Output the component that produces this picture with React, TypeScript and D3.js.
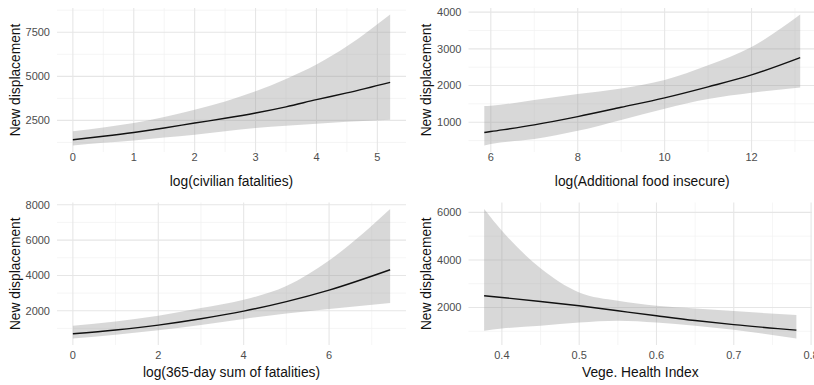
import React from 'react';
import * as d3 from 'd3';

const W = 814;
const H = 385;
const FONT = '"Liberation Sans", Arial, Helvetica, sans-serif';

// Panel 1: log(civilian fatalities)
const civX = [0, 0.5, 1, 1.5, 2, 2.5, 3, 3.5, 4, 4.5, 5.21];
const civFit = [1403, 1600, 1818, 2070, 2350, 2620, 2920, 3270, 3676, 4060, 4660];
const civLo = [1080, 1230, 1364, 1530, 1688, 1890, 2068, 2200, 2310, 2420, 2540];
const civHi = [1880, 2100, 2350, 2700, 3108, 3580, 4150, 4850, 5665, 6700, 8505];
const civXTicks = [0, 1, 2, 3, 4, 5];
const civXLabels = ['0', '1', '2', '3', '4', '5'];
const civYTicks = [2500, 5000, 7500];
const civYLabels = ['2500', '5000', '7500'];

// Panel 2: log(Additional food insecure)
const foodX = [5.85, 6, 7, 8, 9, 10, 11, 12, 13.12];
const foodFit = [718, 745, 927, 1152, 1406, 1665, 1965, 2290, 2762];
const foodLo = [366, 404, 539, 764, 1062, 1370, 1630, 1800, 1945];
const foodHi = [1442, 1451, 1604, 1767, 1921, 2150, 2550, 3049, 3935];
const foodXTicks = [6, 8, 10, 12];
const foodXLabels = ['6', '8', '10', '12'];
const foodYTicks = [1000, 2000, 3000, 4000];
const foodYLabels = ['1000', '2000', '3000', '4000'];

// Panel 3: log(365-day sum of fatalities)
const fatX = [0, 1, 2, 3, 4, 5, 6, 7.43];
const fatFit = [697, 910, 1190, 1550, 1980, 2520, 3170, 4323];
const fatLo = [430, 650, 900, 1200, 1540, 1840, 2100, 2436];
const fatHi = [1150, 1394, 1717, 2151, 2620, 3400, 4850, 7762];
const fatXTicks = [0, 2, 4, 6];
const fatXLabels = ['0', '2', '4', '6'];
const fatYTicks = [2000, 4000, 6000, 8000];
const fatYLabels = ['2000', '4000', '6000', '8000'];

// Panel 4: Vege. Health Index
const vegX = [0.377, 0.4, 0.45, 0.5, 0.55, 0.6, 0.65, 0.7, 0.781];
const vegFit = [2493, 2421, 2253, 2072, 1861, 1651, 1450, 1280, 1048];
const vegLo = [1019, 1116, 1229, 1368, 1445, 1370, 1230, 1060, 695];
const vegHi = [6143, 5229, 3650, 2632, 2282, 2072, 1960, 1850, 1680];
const vegXTicks = [0.4, 0.5, 0.6, 0.7, 0.8];
const vegXLabels = ['0.4', '0.5', '0.6', '0.7', '0.8'];
const vegYTicks = [2000, 4000, 6000];
const vegYLabels = ['2000', '4000', '6000'];

const yTitle = 'New displacement';

const rowY: [number, number][] = [[8, 152], [202.5, 345]];
const tickBase = [161, 359];
const titleBase = [185.5, 377];

function expand(a: number, b: number): [number, number] {
  const p = (b - a) * 0.05;
  return [a - p, b + p];
}

function minors(major: number[], dom: [number, number]) {
  const step = major[1] - major[0];
  const out: number[] = [];
  const all = [major[0] - step, ...major, major[major.length - 1] + step];
  for (let i = 0; i < all.length - 1; i++) {
    const m = (all[i] + all[i + 1]) / 2;
    if (m >= dom[0] && m <= dom[1]) out.push(m);
  }
  return out;
}

type PanelProps = {
  px: [number, number];
  row: number;
  xs: number[];
  fit: number[];
  lo: number[];
  hi: number[];
  xTicks: number[];
  xLabels: string[];
  yTicks: number[];
  yLabels: string[];
  xTitle: string;
};

function Panel(p: PanelProps) {
  const [px0, px1] = p.px;
  const [py0, py1] = rowY[p.row];
  const xDom = expand(d3.min(p.xs)!, d3.max(p.xs)!);
  const yDom = expand(d3.min(p.lo)!, d3.max(p.hi)!);
  const x = d3.scaleLinear().domain(xDom).range([px0, px1]);
  const y = d3.scaleLinear().domain(yDom).range([py1, py0]);
  const idx = p.xs.map((_, i) => i);
  const area = d3
    .area<number>()
    .x((i) => x(p.xs[i]))
    .y0((i) => y(p.lo[i]))
    .y1((i) => y(p.hi[i]))
    .curve(d3.curveMonotoneX);
  const line = d3
    .line<number>()
    .x((i) => x(p.xs[i]))
    .y((i) => y(p.fit[i]))
    .curve(d3.curveMonotoneX);
  const xMinor = minors(p.xTicks, xDom);
  const yMinor = minors(p.yTicks, yDom);
  const cx = (px0 + px1) / 2;
  const cy = (py0 + py1) / 2;
  return (
    <g>
      {xMinor.map((v) => (
        <line key={'xm' + v} x1={x(v)} x2={x(v)} y1={py0} y2={py1} stroke="#f0f0f0" strokeWidth={0.7} />
      ))}
      {yMinor.map((v) => (
        <line key={'ym' + v} x1={px0} x2={px1} y1={y(v)} y2={y(v)} stroke="#f0f0f0" strokeWidth={0.7} />
      ))}
      {p.xTicks.map((v) => (
        <line key={'xM' + v} x1={x(v)} x2={x(v)} y1={py0} y2={py1} stroke="#e6e6e6" strokeWidth={1.1} />
      ))}
      {p.yTicks.map((v) => (
        <line key={'yM' + v} x1={px0} x2={px1} y1={y(v)} y2={y(v)} stroke="#e6e6e6" strokeWidth={1.1} />
      ))}
      <path d={area(idx)!} fill="#999999" fillOpacity={0.38} />
      <path d={line(idx)!} fill="none" stroke="#111" strokeWidth={1.4} />
      {p.xTicks.map((v, i) => (
        <text key={'xl' + v} x={x(v)} y={tickBase[p.row]} textAnchor="middle" fontSize={11} fill="#4d4d4d" fontFamily={FONT}>
          {p.xLabels[i]}
        </text>
      ))}
      {p.yTicks.map((v, i) => (
        <text key={'yl' + v} x={px0 - 7} y={y(v)} dy="0.36em" textAnchor="end" fontSize={11} fill="#4d4d4d" fontFamily={FONT}>
          {p.yLabels[i]}
        </text>
      ))}
      <text x={cx} y={titleBase[p.row]} textAnchor="middle" fontSize={13.8} fill="#111" fontFamily={FONT}>
        {p.xTitle}
      </text>
      <text
        transform={`translate(${px0 - 42},${cy}) rotate(-90)`}
        dy="0.36em"
        textAnchor="middle"
        fontSize={13.8}
        fill="#111"
        fontFamily={FONT}
      >
        {yTitle}
      </text>
    </g>
  );
}

export default function App() {
  return (
    <svg width={W} height={H} style={{ position: 'absolute', left: 0, top: 0, background: '#fff' }}>
      <rect width={W} height={H} fill="#fff" />
      <Panel px={[57, 406]} row={0} xs={civX} fit={civFit} lo={civLo} hi={civHi} xTicks={civXTicks} xLabels={civXLabels} yTicks={civYTicks} yLabels={civYLabels} xTitle="log(civilian fatalities)" />
      <Panel px={[468.5, 816]} row={0} xs={foodX} fit={foodFit} lo={foodLo} hi={foodHi} xTicks={foodXTicks} xLabels={foodXLabels} yTicks={foodYTicks} yLabels={foodYLabels} xTitle="log(Additional food insecure)" />
      <Panel px={[57, 406]} row={1} xs={fatX} fit={fatFit} lo={fatLo} hi={fatHi} xTicks={fatXTicks} xLabels={fatXLabels} yTicks={fatYTicks} yLabels={fatYLabels} xTitle="log(365-day sum of fatalities)" />
      <Panel px={[468.5, 812]} row={1} xs={vegX} fit={vegFit} lo={vegLo} hi={vegHi} xTicks={vegXTicks} xLabels={vegXLabels} yTicks={vegYTicks} yLabels={vegYLabels} xTitle="Vege. Health Index" />
    </svg>
  );
}
